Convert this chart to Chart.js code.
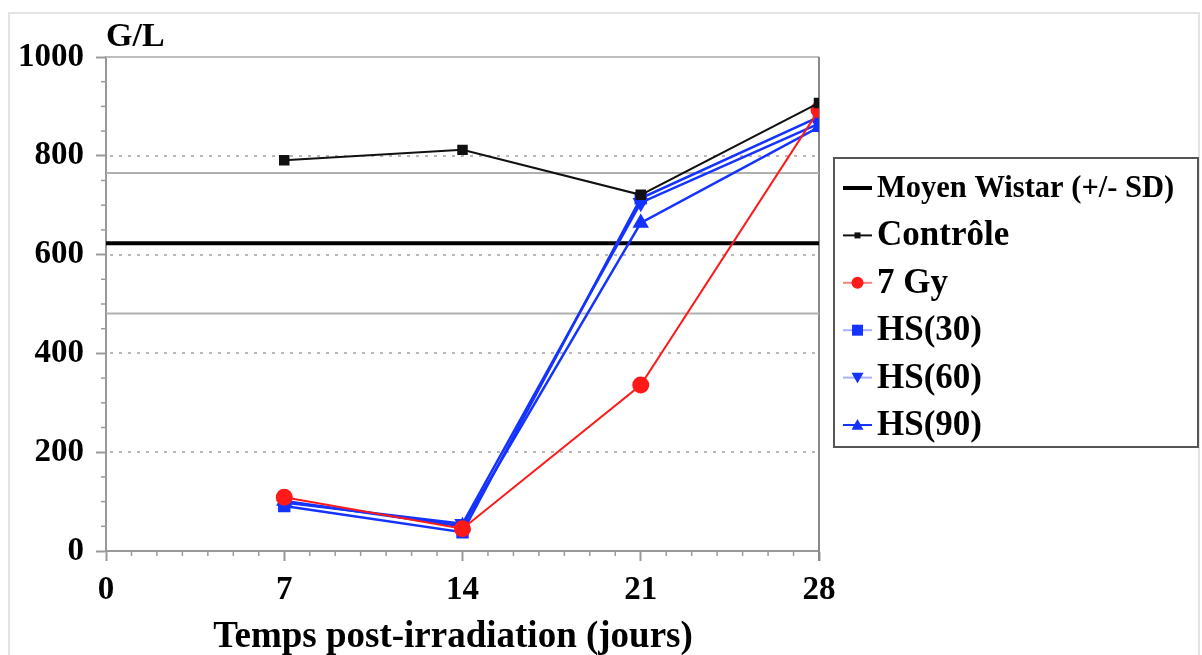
<!DOCTYPE html>
<html><head><meta charset="utf-8">
<script src="https://cdn.jsdelivr.net/npm/chart.js@4.4.1/dist/chart.umd.min.js"></script>
<style>
html,body{margin:0;padding:0;background:#fff;width:1202px;height:655px;overflow:hidden}
#frame{position:absolute;left:8px;top:12px;width:1192px;height:700px;border:2px solid #e4e4e4;box-sizing:border-box}
#wrap{position:absolute;left:0;top:0;width:1202px;height:655px}
</style></head>
<body><div id="frame"></div><div id="wrap"><canvas id="c" width="1202" height="655"></canvas></div>
<script>
// ---- data ----
const days = [7, 14, 21, 28];
const controle = [791, 812, 721, 907];
const gy7 = [109, 45, 336, 893];
const hs30 = [91, 38, 714, 879];
const hs60 = [98, 55, 705, 865];
const hs90 = [101, 50, 664, 858];
const wistarMean = 623;
const wistarSD = 142;
const xTicks = [0, 7, 14, 21, 28];
const yTicks = [0, 200, 400, 600, 800, 1000];
const seriesLabels = ['Moyen Wistar (+/- SD)', 'Contrôle', '7 Gy', 'HS(30)', 'HS(60)', 'HS(90)'];
const yUnit = 'G/L';
const xTitle = 'Temps post-irradiation (jours)';

const BLUE = '#1533ff', RED = '#ff1a1a';
const pts = arr => days.map((d, i) => ({x: d, y: arr[i]}));
const hline = v => [{x: xTicks[0], y: v}, {x: xTicks[xTicks.length - 1], y: v}];
const SERIF = "'Liberation Serif', 'Times New Roman', serif";

const datasets = [
  {label: seriesLabels[1], data: pts(controle), borderColor: '#111', backgroundColor: '#111', borderWidth: 2, pointStyle: 'rect', pointRadius: 6},
  {label: seriesLabels[2], data: pts(gy7), borderColor: RED, backgroundColor: RED, borderWidth: 2, pointStyle: 'circle', pointRadius: 7.5},
  {label: seriesLabels[3], data: pts(hs30), borderColor: BLUE, backgroundColor: BLUE, borderWidth: 2.5, pointStyle: 'rect', pointRadius: 7},
  {label: seriesLabels[4], data: pts(hs60), borderColor: BLUE, backgroundColor: BLUE, borderWidth: 2.5, pointStyle: 'triangle', rotation: 180, pointRadius: 7},
  {label: seriesLabels[5], data: pts(hs90), borderColor: BLUE, backgroundColor: BLUE, borderWidth: 2.5, pointStyle: 'triangle', pointRadius: 7},
  {label: seriesLabels[0], data: hline(wistarMean), borderColor: '#000', borderWidth: 4, pointRadius: 0},
  {label: '+SD', data: hline(wistarMean + wistarSD), borderColor: '#b0b0b0', borderWidth: 2, pointRadius: 0},
  {label: '-SD', data: hline(wistarMean - wistarSD), borderColor: '#b0b0b0', borderWidth: 2, pointRadius: 0}
];

function marker(ctx, style, x, y, r, color) {
  ctx.fillStyle = color;
  ctx.beginPath();
  if (style === 'circle') { ctx.arc(x, y, r, 0, Math.PI * 2); }
  else if (style === 'rect') { ctx.rect(x - r, y - r, 2 * r, 2 * r); }
  else if (style === 'up') { ctx.moveTo(x, y - r); ctx.lineTo(x + r, y + r * 0.8); ctx.lineTo(x - r, y + r * 0.8); ctx.closePath(); }
  else if (style === 'down') { ctx.moveTo(x, y + r); ctx.lineTo(x + r, y - r * 0.8); ctx.lineTo(x - r, y - r * 0.8); ctx.closePath(); }
  ctx.fill();
}

const legendStyle = [
  {line: '#000', lw: 4, m: null, size: 30.5},
  {line: '#111', lw: 2, m: 'rect', mc: '#111', r: 3, size: 35},
  {line: '#ff8080', lw: 2, m: 'circle', mc: RED, r: 6, size: 35},
  {line: '#a8b0ff', lw: 2, m: 'rect', mc: BLUE, r: 5.5, size: 35},
  {line: '#a8b0ff', lw: 2, m: 'down', mc: BLUE, r: 6, size: 35},
  {line: BLUE, lw: 2, m: 'up', mc: BLUE, r: 6, size: 35}
];

const decor = {
  id: 'decor',
  beforeDatasetsDraw(chart) {
    const ctx = chart.ctx, a = chart.chartArea, ys = chart.scales.y, xs = chart.scales.x;
    ctx.save();
    ctx.strokeStyle = '#b8b8b8'; ctx.lineWidth = 2; ctx.setLineDash([3, 6]);
    yTicks.slice(1, -1).forEach(v => {
      const y = Math.round(ys.getPixelForValue(v));
      ctx.beginPath(); ctx.moveTo(a.left + 4, y); ctx.lineTo(a.right, y); ctx.stroke();
    });
    ctx.setLineDash([]);
    const yt = ys.getPixelForValue(yTicks[yTicks.length - 1]);
    ctx.strokeStyle = '#bdbdbd';
    ctx.beginPath(); ctx.moveTo(a.left, yt); ctx.lineTo(a.right, yt); ctx.stroke();
    ctx.strokeStyle = '#8a8a8a';
    ctx.beginPath(); ctx.moveTo(a.right, a.top); ctx.lineTo(a.right, a.bottom + 10); ctx.stroke();
    ctx.strokeStyle = '#9a9a9a'; ctx.lineWidth = 1.5;
    for (let v = 50; v < 1000; v += 50) {
      if (v % 200 === 0) continue;
      const y = ys.getPixelForValue(v);
      ctx.beginPath(); ctx.moveTo(a.left - 5, y); ctx.lineTo(a.left, y); ctx.stroke();
    }
    for (let d = 1; d < 28; d++) {
      if (d % 7 === 0) continue;
      const x = xs.getPixelForValue(d);
      ctx.beginPath(); ctx.moveTo(x, a.bottom); ctx.lineTo(x, a.bottom + 5); ctx.stroke();
    }
    ctx.restore();
  },
  afterDraw(chart) {
    const ctx = chart.ctx;
    ctx.save();
    ctx.fillStyle = '#000';
    ctx.font = 'bold 34px ' + SERIF;
    ctx.textBaseline = 'alphabetic';
    ctx.fillText(yUnit, 106, 46);
    // x-axis title
    ctx.font = 'bold 37px ' + SERIF;
    ctx.textAlign = 'center';
    ctx.fillText(xTitle, 453, 647);
    ctx.textAlign = 'left';
    // legend
    ctx.strokeStyle = '#555'; ctx.lineWidth = 2;
    ctx.strokeRect(834, 158, 364, 289);
    seriesLabels.forEach((lab, i) => {
      const st = legendStyle[i];
      const y = 188 + i * 47.4;
      ctx.strokeStyle = st.line; ctx.lineWidth = st.lw;
      ctx.beginPath(); ctx.moveTo(843, y); ctx.lineTo(872, y); ctx.stroke();
      if (st.m) marker(ctx, st.m, 857.5, y, st.r, st.mc);
      ctx.fillStyle = '#000';
      ctx.font = 'bold ' + st.size + 'px ' + SERIF;
      ctx.textBaseline = 'middle';
      ctx.fillText(lab, 877, y + 1);
    });
    ctx.restore();
  }
};

new Chart(document.getElementById('c'), {
  type: 'line',
  data: {datasets},
  options: {
    responsive: false,
    animation: false,
    layout: {padding: {left: 0, top: 57, right: 383, bottom: 0}},
    plugins: {legend: {display: false}, tooltip: {enabled: false}},
    elements: {line: {tension: 0}},
    scales: {
      x: {
        type: 'linear', min: 0, max: 28,
        afterBuildTicks: s => { s.ticks = xTicks.map(v => ({value: v})); },
        afterFit: s => { s.height = 104; },
        ticks: {color: '#000', padding: 10, maxRotation: 0, callback: v => String(v), font: {family: SERIF, size: 33, weight: 'bold'}},
        grid: {drawOnChartArea: false, drawTicks: true, tickLength: 10, tickColor: '#999', tickWidth: 2},
        border: {color: '#999', width: 2},
        title: {display: false}
      },
      y: {
        min: 0, max: 1000,
        afterBuildTicks: s => { s.ticks = yTicks.map(v => ({value: v})); },
        afterFit: s => { s.width = 106; },
        ticks: {color: '#000', padding: 12, callback: v => String(v), font: {family: SERIF, size: 33, weight: 'bold'}},
        grid: {drawOnChartArea: false, drawTicks: true, tickLength: 10, tickColor: '#999', tickWidth: 2},
        border: {color: '#999', width: 2}
      }
    }
  },
  plugins: [decor]
});
</script>
</body></html>
